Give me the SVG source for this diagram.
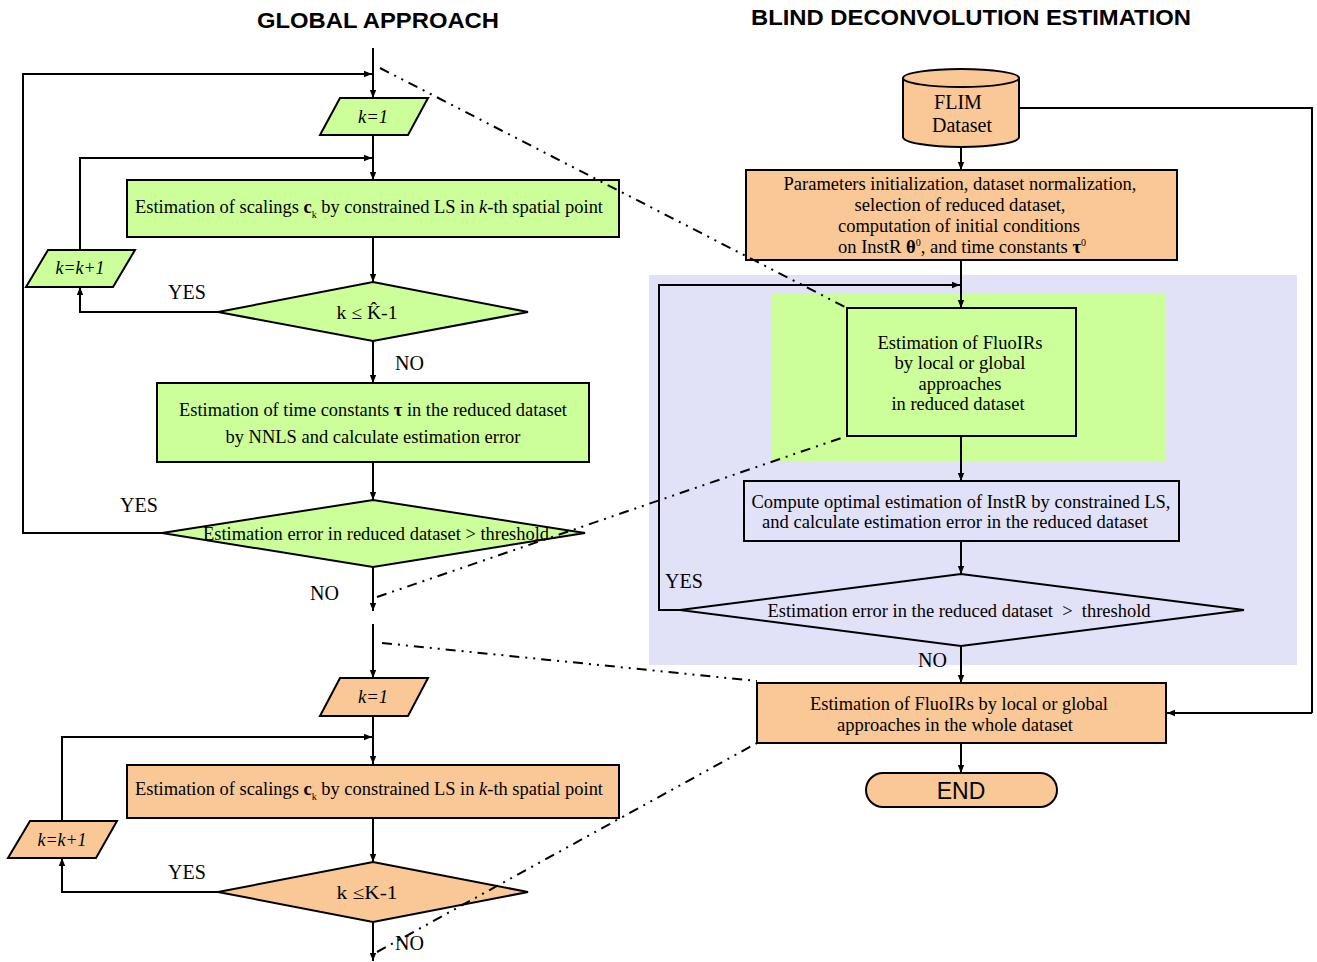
<svg xmlns="http://www.w3.org/2000/svg" width="1317" height="962" viewBox="0 0 1317 962">
<defs>
<marker id="ah" viewBox="0 0 10 10" refX="10" refY="5" markerWidth="8" markerHeight="8" markerUnits="userSpaceOnUse" orient="auto">
<path d="M0,1 L10,5 L0,9 Z" fill="#000"/>
</marker>
<style>
.g{fill:#ccff99;stroke:#000;stroke-width:2}
.o{fill:#fac896;stroke:#000;stroke-width:2}
.n{fill:none;stroke:#000;stroke-width:2}
.c{fill:none;stroke:#000;stroke-width:2}
.ca{fill:none;stroke:#000;stroke-width:2;marker-end:url(#ah)}
.dd{fill:none;stroke:#000;stroke-width:2;stroke-dasharray:10 6 2 6 2 6}
.t{font-family:"Liberation Serif","Times New Roman",serif;font-size:18.5px;fill:#000;text-anchor:middle}
.i{font-style:italic}
.lb{font-family:"Liberation Serif","Times New Roman",serif;font-size:20px;fill:#000}
.h{font-family:"Liberation Sans",Arial,sans-serif;font-size:22px;font-weight:bold;fill:#000;text-anchor:middle}
</style>
</defs>
<rect width="1317" height="962" fill="#fff"/>

<!-- titles -->
<text class="h" x="378" y="28" textLength="242" lengthAdjust="spacingAndGlyphs">GLOBAL APPROACH</text>
<text class="h" x="971" y="25" textLength="440" lengthAdjust="spacingAndGlyphs">BLIND DECONVOLUTION ESTIMATION</text>

<!-- backgrounds -->
<rect x="649" y="275" width="648" height="390" fill="#e1e1f8"/>
<rect x="772" y="293" width="393" height="169" fill="#ccff99"/>

<!-- connectors -->
<g id="connectors">
<line class="ca" x1="373" y1="48" x2="373" y2="98"/>
<polyline class="ca" points="163,533 23,533 23,74 372,74"/>
<line class="ca" x1="373" y1="135" x2="373" y2="180"/>
<polyline class="ca" points="80,250 80,158 372,158"/>
<line class="ca" x1="373" y1="237" x2="373" y2="282"/>
<polyline class="ca" points="218,312 80,312 80,287"/>
<line class="ca" x1="373" y1="341" x2="373" y2="383"/>
<line class="ca" x1="373" y1="462" x2="373" y2="500"/>
<line class="ca" x1="373" y1="567" x2="373" y2="611"/>
<line class="ca" x1="373" y1="624" x2="373" y2="678"/>
<line class="ca" x1="373" y1="716" x2="373" y2="764"/>
<polyline class="ca" points="62,821 62,737 372,737"/>
<line class="ca" x1="373" y1="818" x2="373" y2="862"/>
<polyline class="ca" points="218,892 62,892 62,858"/>
<line class="ca" x1="373" y1="922" x2="373" y2="961"/>

<line class="ca" x1="961" y1="147" x2="961" y2="170"/>
<polyline class="c" points="1020,108 1312,108 1312,713"/>
<line class="ca" x1="1312" y1="713" x2="1167" y2="713"/>
<line class="ca" x1="961" y1="260" x2="961" y2="308"/>
<polyline class="ca" points="680,610 659,610 659,285 960,285"/>
<line class="ca" x1="961" y1="436" x2="961" y2="481"/>
<line class="ca" x1="961" y1="541" x2="961" y2="574"/>
<line class="ca" x1="961" y1="646" x2="961" y2="683"/>
<line class="ca" x1="961" y1="743" x2="961" y2="773"/>
</g>

<!-- left nodes -->
<g id="k1a"><polygon class="g" points="340,98 428,98 408,135 320,135"/><text class="t i" x="373" y="123" textLength="30" lengthAdjust="spacingAndGlyphs">k=1</text></g>
<g id="scal1"><rect class="g" x="127" y="180" width="492" height="57"/>
<text class="t" x="369" y="213" textLength="468" lengthAdjust="spacingAndGlyphs">Estimation of scalings <tspan font-weight="bold">c</tspan><tspan font-size="10" dy="5">k</tspan><tspan dy="-5"> by constrained LS in </tspan><tspan font-style="italic">k</tspan>-th spatial point</text></g>
<g id="kk1a"><polygon class="g" points="48,250 135,250 113,287 26,287"/><text class="t i" x="80" y="274" textLength="49" lengthAdjust="spacingAndGlyphs">k=k+1</text></g>
<g id="dec1"><polygon class="g" points="218,312 373,282 528,312 373,341"/><text class="t" x="367" y="319" textLength="61" lengthAdjust="spacingAndGlyphs">k ≤ K̂-1</text></g>
<g id="tau"><rect class="g" x="157" y="383" width="432" height="79"/>
<text class="t" x="373" y="416" textLength="388" lengthAdjust="spacingAndGlyphs">Estimation of time constants <tspan font-weight="bold">τ</tspan> in the reduced dataset</text>
<text class="t" x="373" y="443" textLength="295" lengthAdjust="spacingAndGlyphs">by NNLS and calculate estimation error</text></g>
<g id="dec2"><polygon class="g" points="162,533 373,500 585,533 373,567"/>
<text class="t" x="376" y="540" textLength="346" lengthAdjust="spacingAndGlyphs">Estimation error in reduced dataset &gt; threshold</text></g>
<g id="k1b"><polygon class="o" points="340,678 428,678 408,716 320,716"/><text class="t i" x="373" y="703" textLength="30" lengthAdjust="spacingAndGlyphs">k=1</text></g>
<g id="scal2"><rect class="o" x="127" y="765" width="492" height="53"/>
<text class="t" x="369" y="795" textLength="468" lengthAdjust="spacingAndGlyphs">Estimation of scalings <tspan font-weight="bold">c</tspan><tspan font-size="10" dy="5">k</tspan><tspan dy="-5"> by constrained LS in </tspan><tspan font-style="italic">k</tspan>-th spatial point</text></g>
<g id="kk1b"><polygon class="o" points="30,821 117,821 96,858 8,858"/><text class="t i" x="62" y="846" textLength="49" lengthAdjust="spacingAndGlyphs">k=k+1</text></g>
<g id="dec3"><polygon class="o" points="218,892 373,862 528,892 373,922"/><text class="t" x="367" y="899" textLength="61" lengthAdjust="spacingAndGlyphs">k ≤K-1</text></g>

<!-- right nodes -->
<g id="flim">
<path class="o" d="M903,78 L903,137 A58,10 0 0 0 1019,137 L1019,78"/>
<ellipse class="o" cx="961" cy="78" rx="58" ry="9"/>
<text class="lb" x="958" y="109" text-anchor="middle">FLIM</text>
<text class="lb" x="962" y="132" text-anchor="middle">Dataset</text>
</g>
<g id="init"><rect class="o" x="746" y="170" width="431" height="90"/>
<text class="t" x="960" y="190" textLength="353" lengthAdjust="spacingAndGlyphs">Parameters initialization, dataset normalization,</text>
<text class="t" x="960" y="211" textLength="211" lengthAdjust="spacingAndGlyphs">selection of reduced dataset,</text>
<text class="t" x="959" y="232" textLength="242" lengthAdjust="spacingAndGlyphs">computation of initial conditions</text>
<text class="t" x="962" y="253" textLength="248" lengthAdjust="spacingAndGlyphs">on InstR <tspan font-weight="bold">θ</tspan><tspan font-size="10" dy="-7">0</tspan><tspan dy="7">, and time constants </tspan><tspan font-weight="bold">τ</tspan><tspan font-size="10" dy="-7">0</tspan></text></g>
<g id="fluo"><rect class="n" x="847" y="308" width="229" height="128"/>
<text class="t" x="960" y="349" textLength="165" lengthAdjust="spacingAndGlyphs">Estimation of FluoIRs</text>
<text class="t" x="960" y="369" textLength="131" lengthAdjust="spacingAndGlyphs">by local or global</text>
<text class="t" x="960" y="390" textLength="83" lengthAdjust="spacingAndGlyphs">approaches</text>
<text class="t" x="958" y="410" textLength="133" lengthAdjust="spacingAndGlyphs">in reduced dataset</text></g>
<g id="instr"><rect class="n" x="744" y="481" width="435" height="60"/>
<text class="t" x="961" y="508" textLength="419" lengthAdjust="spacingAndGlyphs">Compute optimal estimation of InstR by constrained LS,</text>
<text class="t" x="955" y="528" textLength="386" lengthAdjust="spacingAndGlyphs">and calculate estimation error in the reduced dataset</text></g>
<g id="dec4"><polygon class="n" points="680,610 961,574 1244,610 961,646"/>
<text class="t" x="959" y="617" textLength="383" lengthAdjust="spacingAndGlyphs" xml:space="preserve">Estimation error in the reduced dataset  &gt;  threshold</text></g>
<g id="whole"><rect class="o" x="757" y="683" width="409" height="60"/>
<text class="t" x="959" y="710" textLength="298" lengthAdjust="spacingAndGlyphs">Estimation of FluoIRs by local or global</text>
<text class="t" x="955" y="731" textLength="236" lengthAdjust="spacingAndGlyphs">approaches in the whole dataset</text></g>
<g id="end"><rect class="o" x="866" y="773" width="191" height="34" rx="17" ry="17"/>
<text x="961" y="799" font-family="Liberation Sans, Arial, sans-serif" font-size="23" text-anchor="middle">END</text></g>

<!-- labels -->
<g id="labels">
<text class="lb" x="168" y="299">YES</text>
<text class="lb" x="395" y="370">NO</text>
<text class="lb" x="120" y="512">YES</text>
<text class="lb" x="310" y="600">NO</text>
<text class="lb" x="168" y="879">YES</text>
<text class="lb" x="395" y="950">NO</text>
<text class="lb" x="665" y="588">YES</text>
<text class="lb" x="918" y="667">NO</text>
</g>

<!-- zoom indicator lines -->
<g id="zoomlines">
<line class="dd" x1="380" y1="68" x2="847" y2="308"/>
<line class="dd" x1="377" y1="597" x2="847" y2="436"/>
<line class="dd" x1="382" y1="643" x2="757" y2="681"/>
<line class="dd" x1="377" y1="952" x2="757" y2="743"/>
</g>
</svg>
